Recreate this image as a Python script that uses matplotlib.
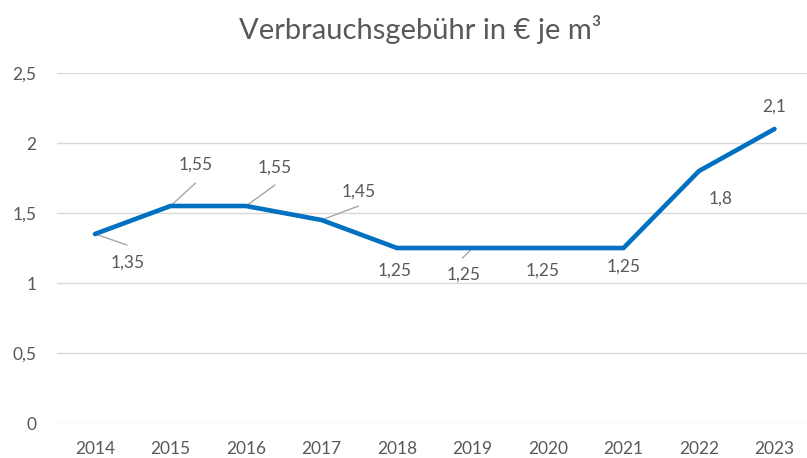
import matplotlib
matplotlib.use("Agg")
import matplotlib.pyplot as plt

years = ["2014", "2015", "2016", "2017", "2018", "2019", "2020", "2021", "2022", "2023"]
values = [1.35, 1.55, 1.55, 1.45, 1.25, 1.25, 1.25, 1.25, 1.8, 2.1]
y_ticks = [0, 0.5, 1, 1.5, 2, 2.5]
y_tick_labels = ["0", "0,5", "1", "1,5", "2", "2,5"]
title = "Verbrauchsgebühr in € je m³"

# label offsets in pixels (dx, dy) and leader line ends (or None)
label_offsets = [(33, -29), (25, 41), (29, 38), (37, 28), (-2, -23),
                 (-9, -27), (-5, -23), (0, -19), (22, -28), (0, 22)]
leader_ends = [(32, -11), (25, 23), (29, 21), (37, 14), None,
               (-10, -10), None, None, None, None]

plt.rcParams['font.family'] = ['Lato', 'DejaVu Sans']
gray = '#595959'

W, H = 807, 458
fig = plt.figure(figsize=(W / 100, H / 100), dpi=100)
left = 57.25 / W
bottom = (H - 423) / H
top = (H - 73) / H
ax = fig.add_axes([left, bottom, 1 - left, top - bottom])

x = list(range(len(years)))
ax.plot(x, values, color='#0070C0', linewidth=3.3, solid_capstyle='round',
        solid_joinstyle='miter', zorder=3)

ax.set_xlim(-0.5, -0.5 + (W - 57.25) / 75.5)
ax.set_ylim(0, 2.5)
ax.set_yticks(y_ticks)
ax.set_yticklabels(y_tick_labels)
ax.set_xticks(x)
ax.set_xticklabels(years)
ax.tick_params(axis='both', length=0, labelsize=12.5, labelcolor=gray)
ax.tick_params(axis='y', pad=15)
ax.tick_params(axis='x', pad=13)
ax.grid(axis='y', color='#D9D9D9', linewidth=1)
ax.set_axisbelow(True)
for s in ax.spines.values():
    s.set_visible(False)

for i, v in enumerate(values):
    dx, dy = label_offsets[i]
    ax.annotate(f"{v:g}".replace('.', ','), (i, v), xytext=(dx, dy),
                textcoords='offset pixels', ha='center', va='center',
                fontsize=12.5, color=gray, zorder=4)
    if leader_ends[i] is not None:
        lx, ly = leader_ends[i]
        ax.annotate('', (i, v), xytext=(lx, ly), textcoords='offset pixels',
                    arrowprops=dict(arrowstyle='-', color='#A6A6A6', lw=1,
                                    shrinkA=0, shrinkB=0), zorder=2)

fig.text(420 / W, 1 - 30 / H, title, ha='center', va='center',
         fontsize=21, color=gray)

fig.savefig("out.png", dpi=100)
